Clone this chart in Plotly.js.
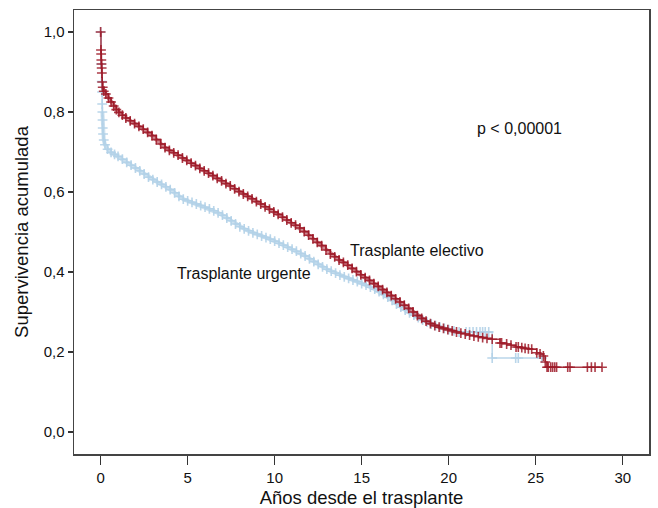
<!DOCTYPE html>
<html>
<head>
<meta charset="utf-8">
<script src="https://cdn.plot.ly/plotly-3.0.1.min.js"></script>
<style>
  html, body { margin: 0; padding: 0; background: #fff; }
  #chart { width: 658px; height: 508px; }
</style>
</head>
<body>
<div id="chart"></div>
<script>
// Kaplan-Meier survival after transplant, elective vs urgent.
// Each point is a step of the survival function; censored cases are marked with "+".
const electivoTiempo = [
  0, 0.02, 0.03, 0.04, 0.05, 0.06, 0.07, 0.09, 0.12, 0.18, 0.3, 0.45, 0.6, 0.75, 0.9,
  1.05, 1.25, 1.45, 1.7, 1.95, 2.2, 2.45, 2.7, 2.95, 3.2, 3.45, 3.7, 3.95,
  4.2, 4.45, 4.7, 4.95, 5.2, 5.45, 5.7, 5.95, 6.2, 6.45, 6.7, 6.95,
  7.2, 7.45, 7.7, 7.95, 8.2, 8.45, 8.7, 8.95, 9.2, 9.45, 9.7, 9.95,
  10.2, 10.45, 10.7, 10.95, 11.2, 11.45, 11.7, 11.95, 12.2, 12.45, 12.7, 12.95,
  13.2, 13.45, 13.7, 13.95, 14.2, 14.45, 14.7, 14.95, 15.2, 15.45, 15.7, 15.95,
  16.2, 16.45, 16.7, 16.95, 17.2, 17.45, 17.7, 17.95, 18.2, 18.45, 18.7, 18.95,
  19.2, 19.45, 19.7, 19.95, 20.2, 20.45, 20.7, 20.95, 21.2, 21.45, 21.7, 21.95,
  22.2, 22.5, 22.95, 23.04, 23.33, 23.58, 23.87, 24.0, 24.2, 24.39, 24.58, 24.77,
  25.06, 25.25, 25.44, 25.55, 25.65, 25.72, 25.86, 25.97, 26.09, 26.2, 26.84, 26.97,
  27.97, 28.2, 28.41, 28.81
];
const electivoSuperv = [
  1.0, 0.955, 0.945, 0.93, 0.92, 0.91, 0.8975, 0.875, 0.862, 0.852, 0.845, 0.835, 0.825, 0.815, 0.806,
  0.799, 0.792, 0.785, 0.778, 0.771, 0.764, 0.757, 0.749, 0.741, 0.731, 0.72, 0.711, 0.704,
  0.698, 0.692, 0.685, 0.679, 0.672, 0.666, 0.659, 0.653, 0.647, 0.641, 0.634, 0.628,
  0.621, 0.615, 0.608, 0.601, 0.595, 0.589, 0.583, 0.576, 0.57, 0.563, 0.557, 0.55,
  0.544, 0.537, 0.53, 0.523, 0.517, 0.51, 0.501, 0.492, 0.483, 0.474, 0.466, 0.455,
  0.445, 0.438, 0.43, 0.424, 0.417, 0.409, 0.401, 0.393, 0.386, 0.379, 0.371, 0.364,
  0.356, 0.349, 0.341, 0.333, 0.325, 0.317, 0.309, 0.3, 0.291, 0.284, 0.277, 0.271,
  0.266, 0.262, 0.259, 0.256, 0.253, 0.25, 0.247, 0.245, 0.242, 0.24, 0.238, 0.236,
  0.234, 0.232, 0.2225, 0.2225, 0.22, 0.217, 0.2125, 0.2125, 0.211, 0.209, 0.208, 0.207,
  0.198, 0.195, 0.19, 0.175, 0.162, 0.162, 0.162, 0.162, 0.162, 0.162, 0.162, 0.162,
  0.162, 0.162, 0.162, 0.162
];

const urgenteTiempo = [
  0, 0.03, 0.06, 0.08, 0.09, 0.1, 0.11, 0.12, 0.14, 0.18, 0.25, 0.4, 0.6, 0.8,
  1.0, 1.25, 1.5, 1.75, 2.0, 2.25, 2.5, 2.75, 3.0, 3.25, 3.5, 3.75,
  4.0, 4.25, 4.5, 4.75, 5.0, 5.25, 5.5, 5.75, 6.0, 6.25, 6.5, 6.75,
  7.0, 7.25, 7.5, 7.75, 8.0, 8.25, 8.5, 8.75, 9.0, 9.25, 9.5, 9.75,
  10.0, 10.25, 10.5, 10.75, 11.0, 11.25, 11.5, 11.75, 12.0, 12.25, 12.5, 12.75,
  13.0, 13.25, 13.5, 13.75, 14.0, 14.25, 14.5, 14.75, 15.0, 15.25, 15.5, 15.75,
  16.0, 16.25, 16.5, 16.75, 17.0, 17.25, 17.5, 17.75, 18.0, 18.25, 18.5, 18.75,
  19.0, 19.25, 19.5, 19.75, 20.0, 20.3, 20.6, 21.0, 21.2, 21.4, 21.6, 21.8,
  21.95, 22.1, 22.3, 22.5, 23.85, 24.0, 25.35
];
const urgenteSuperv = [
  1.0, 0.92, 0.876, 0.85, 0.82, 0.8, 0.78, 0.76, 0.745, 0.73, 0.718, 0.707, 0.699, 0.694,
  0.689, 0.682, 0.674, 0.667, 0.66, 0.653, 0.645, 0.637, 0.631, 0.625, 0.619, 0.613,
  0.606, 0.598, 0.589, 0.582, 0.578, 0.574, 0.57, 0.566, 0.562, 0.558, 0.553, 0.548,
  0.542, 0.535, 0.528, 0.52, 0.513, 0.508, 0.503, 0.498, 0.494, 0.49, 0.486, 0.482,
  0.477, 0.472, 0.467, 0.462, 0.457, 0.452, 0.446, 0.44, 0.433, 0.426, 0.419, 0.413,
  0.407, 0.402, 0.397, 0.392, 0.388, 0.384, 0.38, 0.376, 0.371, 0.367, 0.362, 0.357,
  0.351, 0.344, 0.337, 0.329, 0.32, 0.312, 0.305, 0.298, 0.292, 0.286, 0.28, 0.275,
  0.27, 0.266, 0.262, 0.259, 0.256, 0.253, 0.25, 0.25, 0.25, 0.25, 0.25, 0.25,
  0.25, 0.25, 0.25, 0.185, 0.185, 0.185, 0.185
];

const xTicks = [0, 5, 10, 15, 20, 25, 30];
const yTicks = [0, 0.2, 0.4, 0.6, 0.8, 1.0];

const rojo = 'rgba(158, 26, 40, 0.85)';
const rojoBanda = 'rgba(170, 40, 55, 0.55)';
const azul = 'rgba(178, 210, 232, 0.9)';
const azulBanda = 'rgba(185, 214, 234, 0.75)';
const fuente = '"Liberation Sans", Arial, sans-serif';

// Where censoring is dense the "+" marks merge into a thick band.
const LIMITE_DENSO = 20.5;

function banda(t, s, color) {
  const tt = [], ss = [];
  t.forEach((v, i) => { if (v >= 0.1 && v <= LIMITE_DENSO) { tt.push(v); ss.push(s[i]); } });
  return {
    type: 'scatter', mode: 'lines', x: tt, y: ss,
    line: { color: color, width: 4 }, hoverinfo: 'skip'
  };
}

function curva(t, s, color, nombre) {
  return {
    type: 'scatter',
    mode: 'lines+markers',
    name: nombre,
    x: t,
    y: s,
    line: { shape: 'hv', color: color, width: 1.5 },
    marker: {
      symbol: 'cross-thin',
      size: 7,
      color: color,
      line: { color: color, width: 1.6 }
    },
    hoverinfo: 'x+y+name'
  };
}

const data = [
  banda(urgenteTiempo, urgenteSuperv, azulBanda),
  curva(urgenteTiempo, urgenteSuperv, azul, 'Trasplante urgente'),
  banda(electivoTiempo, electivoSuperv, rojoBanda),
  curva(electivoTiempo, electivoSuperv, rojo, 'Trasplante electivo')
];

const ejeComun = {
  showgrid: false,
  zeroline: false,
  showline: true,
  mirror: true,
  linecolor: '#444',
  linewidth: 1.5,
  ticks: 'outside',
  tickcolor: '#333',
  tickwidth: 1.3,
  tickfont: { family: fuente, size: 15, color: '#111' }
};

const layout = {
  width: 658,
  height: 508,
  margin: { l: 74, r: 9, t: 10, b: 54 },
  paper_bgcolor: '#fff',
  plot_bgcolor: '#fff',
  showlegend: false,
  separators: ',.',
  font: { family: fuente, color: '#111' },
  xaxis: Object.assign({}, ejeComun, {
    range: [-1.53, 31.51],
    tickvals: xTicks,
    ticklen: 9,
    title: { text: 'Años desde el trasplante', font: { family: fuente, size: 18.5, color: '#111' }, standoff: 8 }
  }),
  yaxis: Object.assign({}, ejeComun, {
    range: [-0.055, 1.055],
    tickvals: yTicks,
    tickformat: '.1f',
    ticklen: 5,
    title: { text: 'Supervivencia acumulada', font: { family: fuente, size: 18.5, color: '#111' }, standoff: 10 }
  }),
  annotations: [
    { x: 24.07, y: 0.76, text: 'p < 0,00001', showarrow: false, font: { family: fuente, size: 16, color: '#111' } },
    { x: 18.18, y: 0.455, text: 'Trasplante electivo', showarrow: false, font: { family: fuente, size: 16, color: '#111' } },
    { x: 8.26, y: 0.3975, text: 'Trasplante urgente', showarrow: false, font: { family: fuente, size: 16, color: '#111' } }
  ]
};

Plotly.newPlot('chart', data, layout, { displayModeBar: false, staticPlot: true });
</script>
</body>
</html>
